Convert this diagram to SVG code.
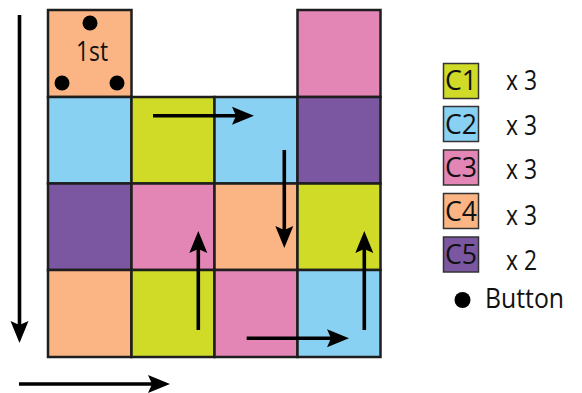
<svg xmlns="http://www.w3.org/2000/svg" width="582" height="393" viewBox="0 0 582 393">
<style>
.cell{stroke:#1e1e1e;stroke-width:2.5}
.c1{fill:#cfdb27}.c2{fill:#89d1f3}.c3{fill:#e386b5}.c4{fill:#fbb584}.c5{fill:#7b57a2}
.leg{stroke:#333;stroke-width:1.5}
.t{font-family:"Open Sans","Noto Sans",sans-serif;font-size:27px;fill:#111}
.arr{stroke:#000;stroke-width:3.6;fill:none;marker-end:url(#ah)}
</style>
<defs>
<marker id="ah" markerUnits="userSpaceOnUse" markerWidth="24" markerHeight="20" viewBox="0 -10 24 20" refX="12" refY="0" orient="auto">
<path d="M22,0 L0,-9 L4,0 L0,9 Z" fill="#000"/>
</marker>
</defs>
<g id="cell-0-0"><rect class="cell c4" x="48" y="10" width="83.5" height="87"/>
<circle cx="90" cy="23" r="7.5"/><circle cx="62" cy="83" r="7.5"/><circle cx="117" cy="83" r="7.5"/>
<text class="t" x="76" y="61" textLength="32" lengthAdjust="spacingAndGlyphs">1st</text></g>
<g id="cell-0-3"><rect class="cell c3" x="297.5" y="10" width="83" height="87"/></g>
<g id="cell-1-0"><rect class="cell c2" x="48" y="97" width="83.5" height="86.5"/></g>
<g id="cell-1-1"><rect class="cell c1" x="131.5" y="97" width="83" height="86.5"/></g>
<g id="cell-1-2"><rect class="cell c2" x="214.5" y="97" width="83" height="86.5"/></g>
<g id="cell-1-3"><rect class="cell c5" x="297.5" y="97" width="83" height="86.5"/></g>
<g id="cell-2-0"><rect class="cell c5" x="48" y="183.5" width="83.5" height="86.5"/></g>
<g id="cell-2-1"><rect class="cell c3" x="131.5" y="183.5" width="83" height="86.5"/></g>
<g id="cell-2-2"><rect class="cell c4" x="214.5" y="183.5" width="83" height="86.5"/></g>
<g id="cell-2-3"><rect class="cell c1" x="297.5" y="183.5" width="83" height="86.5"/></g>
<g id="cell-3-0"><rect class="cell c4" x="48" y="270" width="83.5" height="87"/></g>
<g id="cell-3-1"><rect class="cell c1" x="131.5" y="270" width="83" height="87"/></g>
<g id="cell-3-2"><rect class="cell c3" x="214.5" y="270" width="83" height="87"/></g>
<g id="cell-3-3"><rect class="cell c2" x="297.5" y="270" width="83" height="87"/></g>
<g id="connectors">
<path class="arr" d="M19.5,15 V333"/>
<path class="arr" d="M19,384 H160"/>
<path class="arr" d="M153,115.7 H244"/>
<path class="arr" d="M284.3,150 V238"/>
<path class="arr" d="M198.3,330 V241"/>
<path class="arr" d="M246.7,338.3 H339"/>
<path class="arr" d="M364.3,330 V241"/>
</g>
<g id="legend-c1"><rect class="leg c1" x="443.5" y="63.5" width="35" height="35"/><text class="t" x="445" y="90" textLength="32" lengthAdjust="spacingAndGlyphs">C1</text><text class="t" x="506" y="90" textLength="31" lengthAdjust="spacingAndGlyphs">x 3</text></g>
<g id="legend-c2"><rect class="leg c2" x="443.5" y="106.5" width="35" height="35"/><text class="t" x="445" y="133.5" textLength="32" lengthAdjust="spacingAndGlyphs">C2</text><text class="t" x="506" y="134.5" textLength="31" lengthAdjust="spacingAndGlyphs">x 3</text></g>
<g id="legend-c3"><rect class="leg c3" x="443.5" y="150" width="35" height="35"/><text class="t" x="445" y="177" textLength="32" lengthAdjust="spacingAndGlyphs">C3</text><text class="t" x="506" y="179" textLength="31" lengthAdjust="spacingAndGlyphs">x 3</text></g>
<g id="legend-c4"><rect class="leg c4" x="443.5" y="193.5" width="35" height="35"/><text class="t" x="445" y="220.5" textLength="32" lengthAdjust="spacingAndGlyphs">C4</text><text class="t" x="506" y="224.5" textLength="31" lengthAdjust="spacingAndGlyphs">x 3</text></g>
<g id="legend-c5"><rect class="leg c5" x="443.5" y="237" width="35" height="35"/><text class="t" x="445" y="264" textLength="32" lengthAdjust="spacingAndGlyphs">C5</text><text class="t" x="506" y="269.5" textLength="31" lengthAdjust="spacingAndGlyphs">x 2</text></g>
<g id="legend-button"><circle cx="462.5" cy="300" r="8"/><text class="t" x="485" y="308" textLength="79" lengthAdjust="spacingAndGlyphs">Button</text></g>
</svg>
